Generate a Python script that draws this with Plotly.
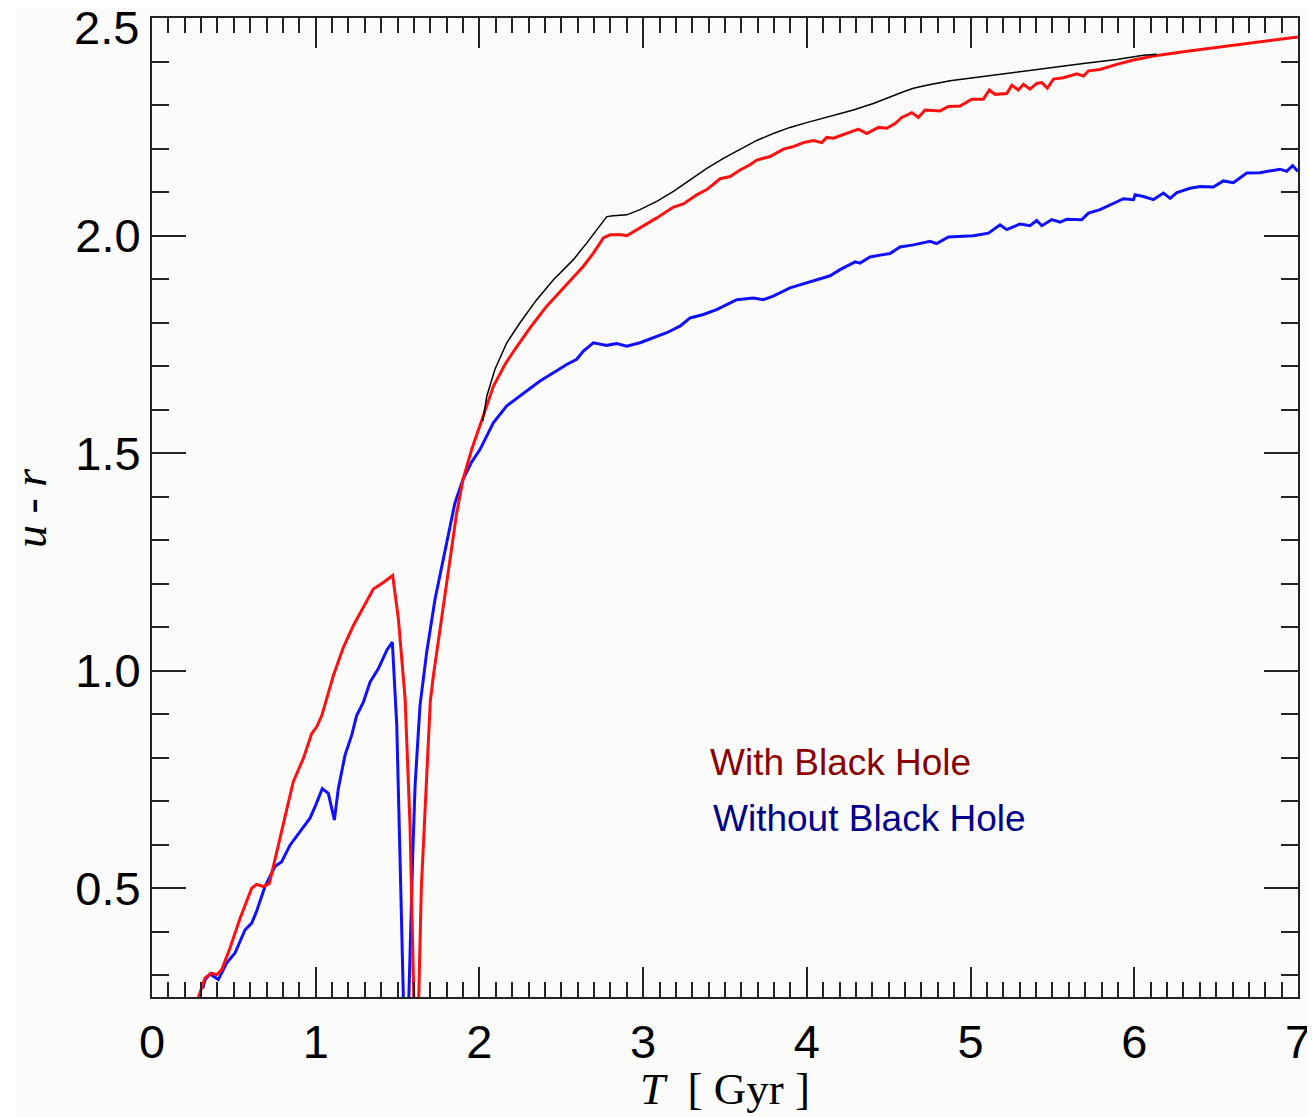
import plotly.graph_objects as go

# ---- data ----
red_t = [0.28, 0.324, 0.365, 0.395, 0.426, 0.476, 0.538, 0.609, 0.639, 0.68, 0.717, 0.762, 0.812, 0.863,
         0.924, 0.975, 1.006, 1.037, 1.108, 1.169, 1.23, 1.301, 1.352, 1.413, 1.47, 1.505, 1.546, 1.576,
         1.614, 1.645, 1.675, 1.70, 1.719, 1.77, 1.82, 1.86, 1.90, 1.953, 2.024, 2.085, 2.156, 2.217,
         2.309, 2.411, 2.523, 2.635, 2.696, 2.757, 2.798, 2.869, 2.90, 2.981, 3.083, 3.185, 3.246, 3.327,
         3.389, 3.47, 3.531, 3.592, 3.653, 3.694, 3.775, 3.857, 3.918, 3.979, 4.04, 4.091, 4.121, 4.162,
         4.243, 4.315, 4.366, 4.437, 4.488, 4.539, 4.58, 4.641, 4.681, 4.722, 4.814, 4.865, 4.936, 5.007,
         5.078, 5.115, 5.15, 5.221, 5.252, 5.292, 5.323, 5.363, 5.404, 5.435, 5.469, 5.506, 5.567, 5.649,
         5.689, 5.72, 5.791, 5.893, 5.995, 6.117, 6.3, 6.504, 6.707, 7.0]
red_v = [0.245, 0.294, 0.305, 0.301, 0.313, 0.362, 0.431, 0.500, 0.509, 0.504, 0.511, 0.585, 0.668, 0.745,
         0.798, 0.855, 0.871, 0.897, 0.989, 1.054, 1.104, 1.154, 1.188, 1.203, 1.219, 1.119, 0.936, 0.645,
         0.0, 0.5, 0.75, 0.93, 0.989, 1.127, 1.257, 1.36, 1.44, 1.509, 1.586, 1.654, 1.704, 1.739,
         1.788, 1.838, 1.884, 1.930, 1.960, 1.995, 2.002, 2.002, 2.000, 2.018, 2.041, 2.066, 2.073, 2.094,
         2.106, 2.131, 2.136, 2.151, 2.163, 2.174, 2.182, 2.199, 2.205, 2.214, 2.219, 2.214, 2.226, 2.224,
         2.235, 2.245, 2.235, 2.249, 2.247, 2.258, 2.272, 2.283, 2.272, 2.289, 2.287, 2.297, 2.298, 2.314,
         2.314, 2.335, 2.325, 2.327, 2.346, 2.335, 2.348, 2.337, 2.350, 2.352, 2.339, 2.360, 2.363, 2.372,
         2.367, 2.379, 2.382, 2.394, 2.404, 2.413, 2.423, 2.433, 2.443, 2.457]

blue_t = [0.31, 0.325, 0.354, 0.405, 0.456, 0.507, 0.568, 0.609, 0.639, 0.69, 0.751, 0.792, 0.843, 0.904,
          0.965, 1.0, 1.04, 1.077, 1.114, 1.138, 1.179, 1.22, 1.25, 1.291, 1.332, 1.383, 1.434, 1.468,
          1.495, 1.515, 1.551, 1.592, 1.607, 1.637, 1.678, 1.729, 1.78, 1.80, 1.85, 1.90, 1.95, 2.004,
          2.085, 2.167, 2.289, 2.37, 2.452, 2.533, 2.594, 2.635, 2.696, 2.778, 2.839, 2.90, 2.981, 3.063,
          3.144, 3.225, 3.287, 3.368, 3.449, 3.572, 3.673, 3.734, 3.795, 3.897, 3.999, 4.142, 4.203, 4.295,
          4.325, 4.386, 4.457, 4.508, 4.569, 4.651, 4.753, 4.793, 4.865, 4.956, 5.017, 5.109, 5.18, 5.221,
          5.302, 5.363, 5.404, 5.435, 5.496, 5.547, 5.588, 5.679, 5.72, 5.791, 5.873, 5.934, 5.995, 6.005,
          6.056, 6.117, 6.178, 6.219, 6.26, 6.341, 6.402, 6.483, 6.544, 6.605, 6.687, 6.768, 6.89, 6.931,
          6.967, 7.0]
blue_v = [0.27, 0.29, 0.303, 0.29, 0.328, 0.351, 0.404, 0.42, 0.447, 0.504, 0.55, 0.561, 0.599, 0.63,
          0.661, 0.691, 0.729, 0.718, 0.657, 0.729, 0.806, 0.852, 0.897, 0.928, 0.974, 1.005, 1.047, 1.066,
          0.875, 0.57, 0.0, 0.569, 0.737, 0.92, 1.043, 1.165, 1.257, 1.30, 1.385, 1.44, 1.478, 1.509,
          1.57, 1.609, 1.643, 1.666, 1.685, 1.704, 1.716, 1.735, 1.754, 1.748, 1.752, 1.746, 1.754, 1.765,
          1.777, 1.792, 1.811, 1.819, 1.83, 1.853, 1.857, 1.853, 1.861, 1.88, 1.891, 1.908, 1.922, 1.94,
          1.937, 1.951, 1.956, 1.959, 1.974, 1.979, 1.987, 1.982, 1.997, 1.998, 2.0, 2.006, 2.025, 2.014,
          2.027, 2.023, 2.035, 2.023, 2.037, 2.031, 2.038, 2.037, 2.052, 2.06, 2.075, 2.085, 2.083, 2.094,
          2.09, 2.083, 2.098, 2.086, 2.099, 2.109, 2.113, 2.112, 2.126, 2.122, 2.144, 2.145, 2.153, 2.148,
          2.161, 2.148]

black_t = [2.02, 2.045, 2.095, 2.167, 2.248, 2.35, 2.452, 2.574, 2.655, 2.717, 2.778, 2.818, 2.90, 2.981,
           3.083, 3.185, 3.287, 3.389, 3.49, 3.592, 3.694, 3.795, 3.897, 3.999, 4.101, 4.203, 4.284, 4.406,
           4.508, 4.59, 4.651, 4.732, 4.875, 5.017, 5.18, 5.343, 5.506, 5.689, 5.893, 6.056, 6.137]
black_v = [1.574, 1.631, 1.693, 1.754, 1.80, 1.853, 1.899, 1.945, 1.983, 2.014, 2.044, 2.046, 2.048, 2.06,
           2.079, 2.102, 2.128, 2.155, 2.178, 2.199, 2.219, 2.235, 2.249, 2.26, 2.27, 2.281, 2.289, 2.304,
           2.32, 2.331, 2.339, 2.346, 2.356, 2.363, 2.372, 2.379, 2.388, 2.396, 2.405, 2.415, 2.417]

x_ticks = [0, 1, 2, 3, 4, 5, 6, 7]
y_ticks = [0.5, 1.0, 1.5, 2.0, 2.5]
legend_labels = ["With Black Hole", "Without Black Hole"]

# ---- figure ----
bg = "#fbfcfa"
axis_col = "#222222"
fig = go.Figure()
fig.add_trace(go.Scatter(x=blue_t, y=blue_v, mode="lines", line=dict(color="#1010ff", width=3), showlegend=False))
fig.add_trace(go.Scatter(x=red_t, y=red_v, mode="lines", line=dict(color="#ff1010", width=3), showlegend=False))
fig.add_trace(go.Scatter(x=black_t, y=black_v, mode="lines", line=dict(color="#000000", width=1.5), showlegend=False))

tickfont = dict(family="Liberation Sans, Arial, sans-serif", size=47, color="#000000")
# the top label (2.5) sits at the very top edge; it is drawn as an annotation nudged down to stay visible
y_ticktext = ["%.1f" % v for v in y_ticks]
top_label = y_ticktext[-1]
y_ticktext[-1] = ""

fig.update_xaxes(range=[0, 7], tickvals=x_ticks, ticktext=[str(v) for v in x_ticks],
                 ticks="inside", ticklen=30, tickwidth=2, tickcolor=axis_col,
                 showline=True, linewidth=2, linecolor=axis_col, mirror="allticks",
                 showgrid=False, zeroline=False, tickfont=tickfont, ticklabelstandoff=3,
                 ticklabeloverflow="allow",
                 minor=dict(dtick=0.1, tick0=0, ticks="inside", ticklen=15, tickwidth=2, tickcolor=axis_col, showgrid=False))
fig.update_yaxes(range=[0.25, 2.5005], tickvals=y_ticks, ticktext=y_ticktext,
                 ticks="inside", ticklen=34, tickwidth=2, tickcolor=axis_col,
                 showline=True, linewidth=2, linecolor=axis_col, mirror="allticks",
                 showgrid=False, zeroline=False, tickfont=tickfont, ticklabelstandoff=0,
                 ticklabeloverflow="allow",
                 minor=dict(dtick=0.1, tick0=0.5, ticks="inside", ticklen=17, tickwidth=2, tickcolor=axis_col, showgrid=False))

# page has an 8px body margin; compensate so the plot lands where the reference has it
OFF = 8
W, H = 1315 - OFF, 1117 - OFF
ml, mr, mt, mb = 152 - OFF, 17, 18 - OFF, 120
pw, ph = W - ml - mr, H - mt - mb

def px(xp):
    return (xp - OFF - ml) / pw

def py(yp):
    return (H - mb - (yp - OFF)) / ph

annotations = [
    dict(text=top_label, x=px(141), y=py(28), xref="paper", yref="paper", showarrow=False,
         xanchor="right", yanchor="middle", font=tickfont),
    dict(text="<i>T</i>  [ Gyr ]", x=0.5, y=py(1089), xref="paper", yref="paper", showarrow=False,
         xanchor="center", yanchor="middle", font=dict(family="Liberation Serif, Times New Roman, serif", size=45, color="#000")),
    dict(text="<i>u</i> - <i>r</i>", x=px(30), y=py(508), xref="paper", yref="paper", showarrow=False,
         textangle=-90, xanchor="center", yanchor="middle", font=dict(family="Liberation Serif, Times New Roman, serif", size=46, color="#000")),
    dict(text=legend_labels[0], x=px(708), y=py(762), xref="paper", yref="paper", showarrow=False,
         xanchor="left", yanchor="middle", font=dict(family="Liberation Sans, Arial, sans-serif", size=37, color="#8b0000")),
    dict(text=legend_labels[1], x=px(711), y=py(818), xref="paper", yref="paper", showarrow=False,
         xanchor="left", yanchor="middle", font=dict(family="Liberation Sans, Arial, sans-serif", size=37, color="#00008b")),
]

fig.update_layout(width=W, height=H, margin=dict(l=ml, r=mr, t=mt, b=mb, pad=0, autoexpand=False),
                  paper_bgcolor=bg, plot_bgcolor=bg, annotations=annotations, showlegend=False,
                  shapes=[dict(type="rect", xref="paper", yref="paper", x0=px(OFF), x1=px(16), y0=py(1117), y1=py(OFF),
                               fillcolor="#ffffff", line=dict(width=0), layer="below")])

fig.write_html("out.html")
